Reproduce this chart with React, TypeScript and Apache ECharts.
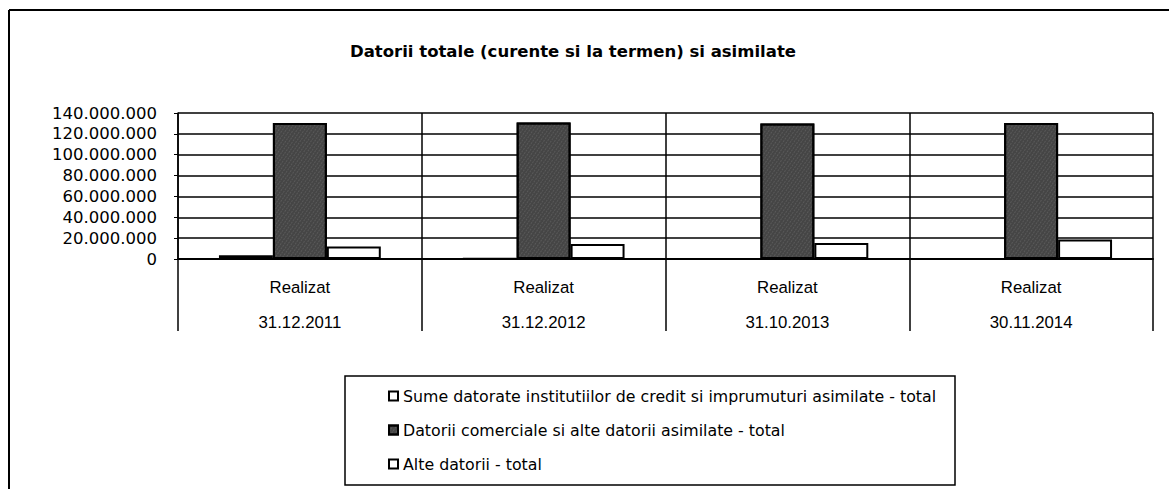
import React, { useEffect, useRef } from 'react';
import * as echarts from 'echarts';

const categories = ['31.12.2011', '31.12.2012', '31.10.2013', '30.11.2014'];
const categoryPrefix = 'Realizat';
const seriesNames = [
  'Sume datorate institutiilor de credit si imprumuturi asimilate - total',
  'Datorii comerciale si alte datorii asimilate - total',
  'Alte datorii - total',
];
const creditValues = [3500000, 300000, 200000, 200000];
const comercialValues = [130400000, 131000000, 130000000, 130500000];
const alteValues = [12000000, 14300000, 15300000, 18600000];
const yMin = 0;
const yMax = 140000000;
const yStep = 20000000;
const titleText = 'Datorii totale (curente si la termen) si asimilate';

const fmt = (v: number) => String(v).replace(/\B(?=(\d{3})+(?!\d))/g, '.');

export default function App() {
  const ref = useRef<HTMLDivElement>(null);
  useEffect(() => {
    document.body.style.margin = '0';
    const chart = echarts.init(ref.current!, null, { renderer: 'svg' });
    const whiteBar = { color: '#ffffff', borderColor: '#000000', borderWidth: 2 };
    chart.setOption({
      animation: false,
      backgroundColor: '#ffffff',
      title: {
        text: titleText,
        left: 345,
        top: 38,
        textStyle: { fontFamily: 'DejaVu Sans', fontWeight: 'bold', fontSize: 16.5, color: '#000' },
      },
      legend: {
        orient: 'vertical',
        left: 388,
        top: 387,
        padding: 0,
        itemWidth: 9,
        itemHeight: 9,
        itemGap: 16,
        icon: 'rect',
        textStyle: { fontFamily: 'DejaVu Sans', fontSize: 15.8, lineHeight: 18, color: '#000' },
        data: seriesNames,
      },
      grid: { left: 178, right: 16, top: 113, bottom: 230 },
      xAxis: {
        type: 'category',
        data: categories,
        axisLine: { lineStyle: { color: '#000', width: 2 } },
        axisTick: { show: true, length: 72, interval: 0, lineStyle: { color: '#000', width: 1.5 } },
        axisLabel: {
          interval: 0,
          formatter: (v: string) => categoryPrefix + '\n' + v,
          fontFamily: 'Liberation Sans',
          fontSize: 16.8,
          lineHeight: 35,
          color: '#000',
          margin: 11,
        },
        splitLine: { show: true, interval: 0, lineStyle: { color: '#000', width: 1.5 } },
      },
      yAxis: {
        type: 'value',
        min: yMin,
        max: yMax,
        interval: yStep,
        axisLine: { show: true, lineStyle: { color: '#000', width: 1.5 } },
        axisTick: { show: true, length: 4, lineStyle: { color: '#000' } },
        axisLabel: {
          formatter: (v: number) => fmt(v),
          fontFamily: 'DejaVu Sans',
          fontSize: 16.5,
          color: '#000',
          margin: 21,
        },
        splitLine: { lineStyle: { color: '#000', width: 1.5 } },
      },
      series: [
        {
          name: seriesNames[0],
          type: 'bar',
          data: creditValues,
          barGap: '0%',
          barCategoryGap: '33.6%',
          itemStyle: whiteBar,
        },
        {
          name: seriesNames[1],
          type: 'bar',
          data: comercialValues,
          itemStyle: {
            color: '#454545',
            borderColor: '#000000',
            borderWidth: 2,
            decal: {
              symbol: 'rect',
              symbolSize: 0.6,
              color: 'rgba(200,200,200,0.5)',
              dashArrayX: [1, 2],
              dashArrayY: [2, 1],
              rotation: 0.6,
            },
          },
        },
        {
          name: seriesNames[2],
          type: 'bar',
          data: alteValues,
          itemStyle: whiteBar,
        },
      ],
      graphic: [
        { type: 'line', shape: { x1: 9, y1: 10, x2: 1169, y2: 10 }, style: { stroke: '#000', lineWidth: 2 } },
        { type: 'line', shape: { x1: 9, y1: 10, x2: 9, y2: 489 }, style: { stroke: '#000', lineWidth: 2 } },
        {
          type: 'rect',
          shape: { x: 345, y: 376, width: 610, height: 109 },
          style: { fill: 'none', stroke: '#000', lineWidth: 1.5 },
          silent: true,
        },
      ],
    });
    return () => chart.dispose();
  }, []);
  return <div ref={ref} style={{ width: 1169, height: 489 }} />;
}
